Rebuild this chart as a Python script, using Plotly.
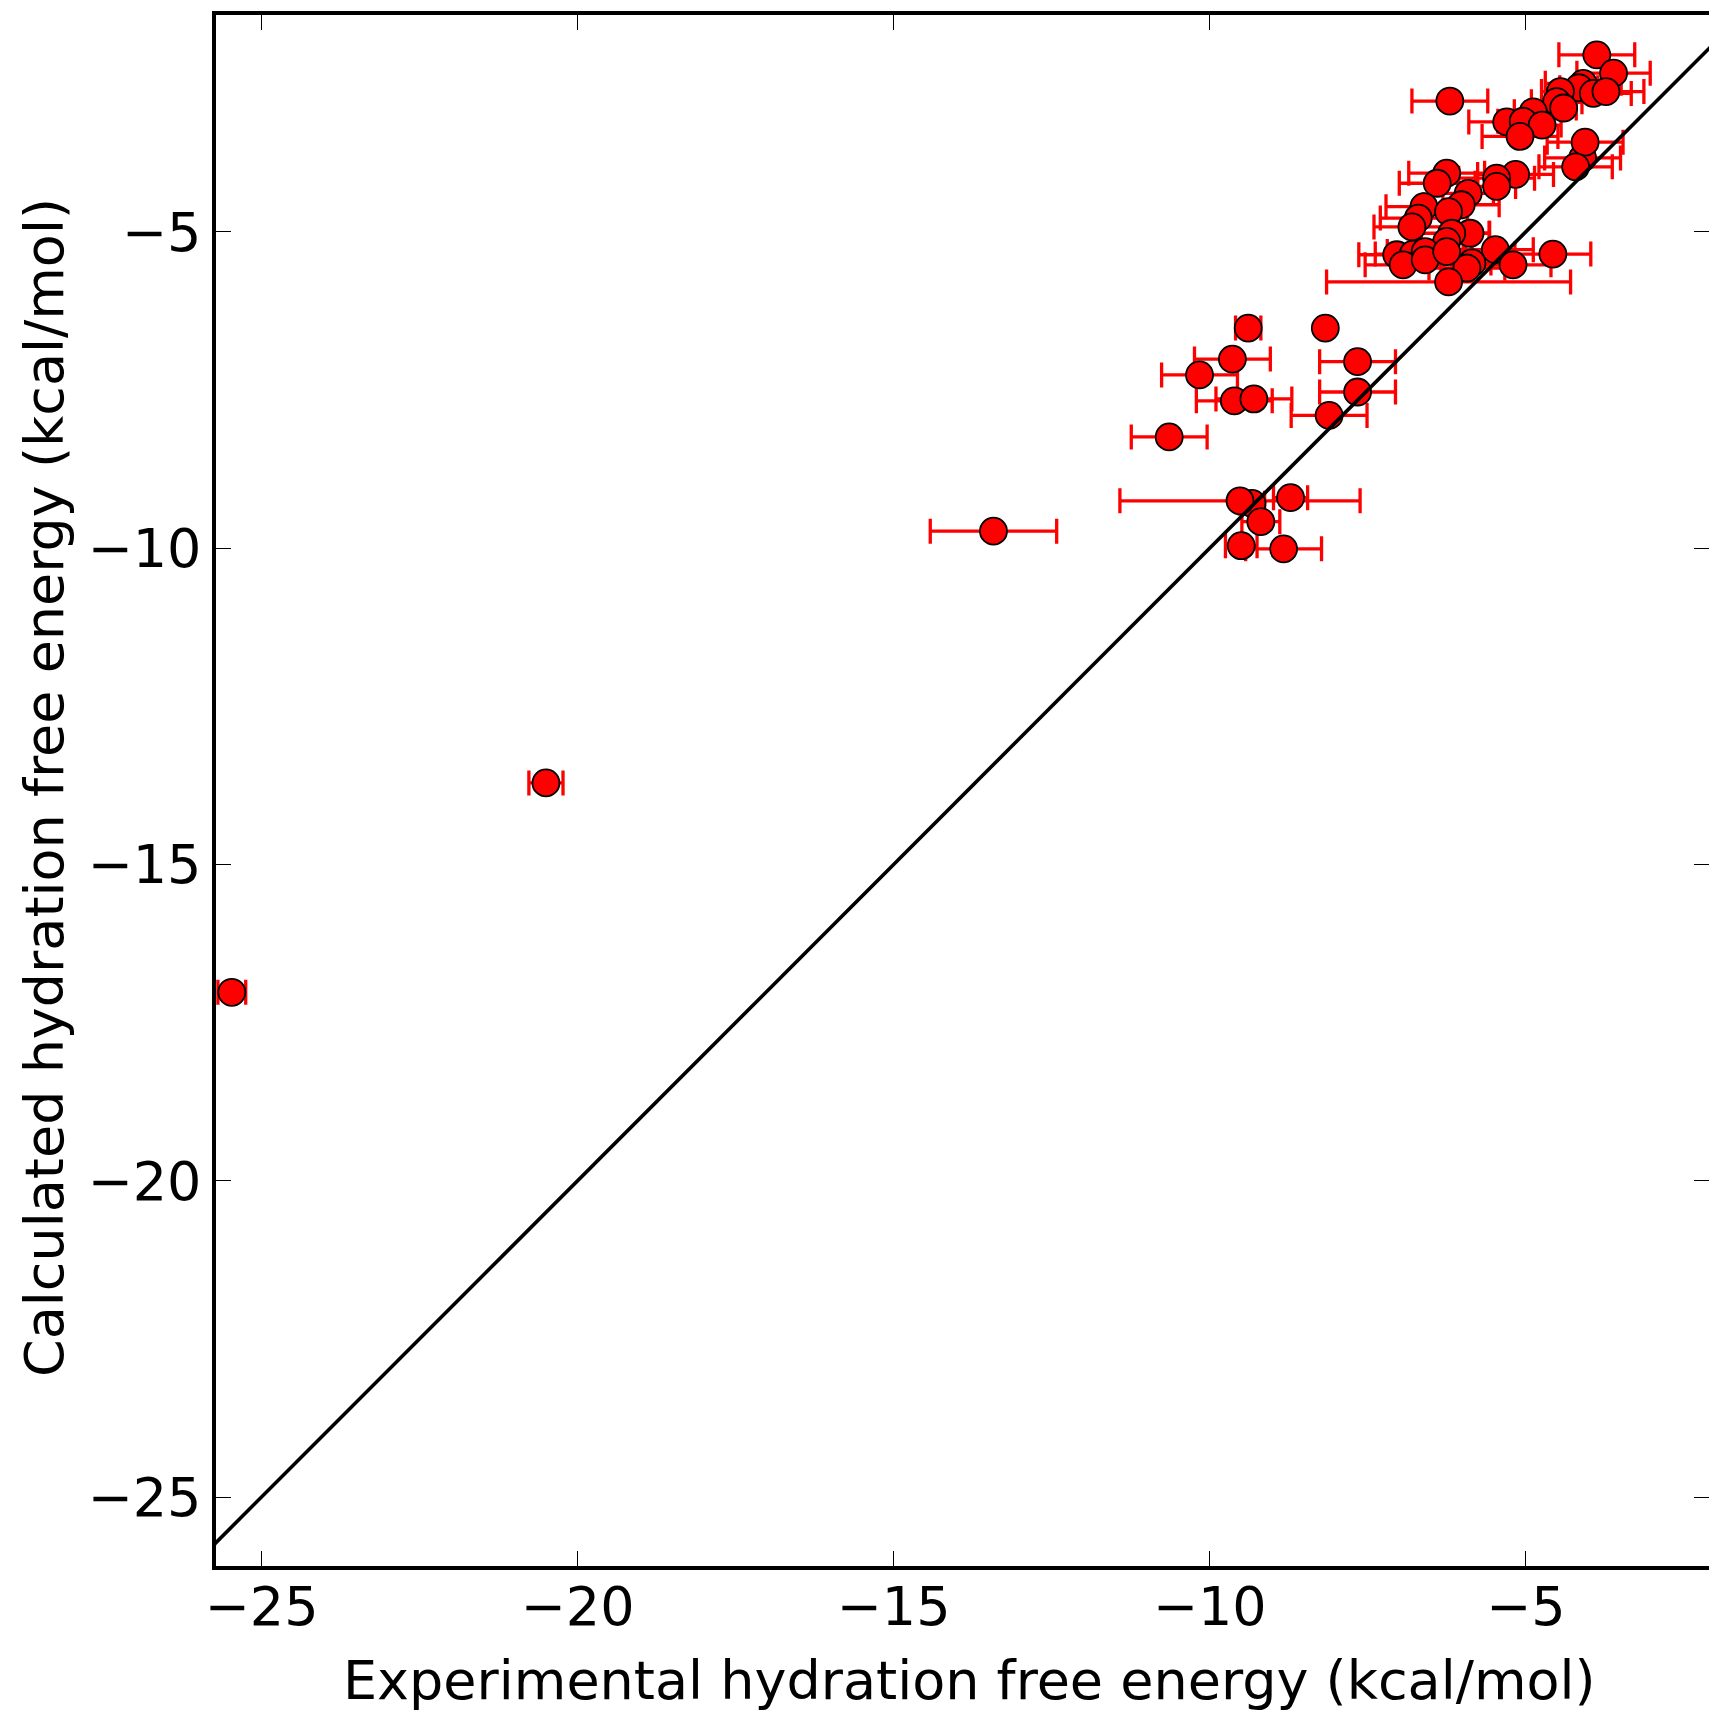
import plotly.graph_objects as go

# Experimental (x) vs calculated (y) hydration free energies, kcal/mol, with x error
exp_dg = [
    -25.47, -20.50, -13.42,
    -9.39, -8.17, -9.64, -10.16, -7.66, -7.66, -9.61, -9.30, -8.11, -10.64,
    -9.33, -9.52, -8.72, -9.19, -9.50, -8.83,
    -3.875, -3.61, -6.20, -4.09, -4.16, -3.93, -3.73, -4.45, -4.51, -4.40,
    -4.88, -5.30, -5.04, -4.74, -5.09, -4.10, -4.06, -4.21,
    -6.25, -6.40, -5.16, -5.46, -5.46, -5.91, -6.02, -6.61, -6.22, -6.70,
    -6.80, -5.88, -6.17, -6.25, -7.04, -6.78, -6.59, -6.94, -6.59, -5.48,
    -5.20, -5.85, -5.93, -6.22, -4.57, -6.25,
]
calc_dg = [
    -17.02, -13.71, -9.73,
    -6.52, -6.52, -7.01, -7.26, -7.05, -7.53, -7.67, -7.64, -7.90, -8.24,
    -9.29, -9.25, -9.20, -9.58, -9.96, -10.01,
    -2.20, -2.49, -2.93, -2.65, -2.72, -2.81, -2.78, -2.78, -2.94, -3.04,
    -3.10, -3.26, -3.25, -3.31, -3.49, -3.83, -3.58, -3.97,
    -4.07, -4.23, -4.09, -4.15, -4.28, -4.39, -4.57, -4.60, -4.68, -4.78,
    -4.92, -5.02, -5.02, -5.15, -5.36, -5.35, -5.31, -5.52, -5.44, -5.28,
    -5.52, -5.49, -5.57, -5.79, -5.35, -5.31,
]
exp_err = [
    0.22, 0.27, 1.0,
    0.2, 0.0, 0.6, 0.6, 0.6, 0.6, 0.6, 0.6, 0.6, 0.6,
    0.2, 1.9, 0.27, 0.3, 0.25, 0.6,
    0.6, 0.58, 0.6, 0.6, 0.3, 0.6, 0.6, 0.3, 0.4, 0.2,
    0.3, 0.6, 0.4, 0.3, 0.6, 0.6, 0.6, 0.58,
    0.6, 0.6, 0.6, 0.6, 0.3, 0.4, 0.6, 0.6, 0.3, 0.6,
    0.6, 0.3, 0.6, 0.4, 0.6, 0.6, 0.6, 0.6, 0.3, 0.6,
    0.6, 0.3, 0.6, 1.93, 0.6, 0.3,
]

x_range = [-25.72, -2.10]
y_range = [-26.09, -1.57]
tick_vals = [-25, -20, -15, -10, -5]
tick_text = ["\u221225", "\u221220", "\u221215", "\u221210", "\u22125"]

FONT = "DejaVu Sans"
FS = 54

fig = go.Figure()
fig.add_trace(go.Scatter(
    x=exp_dg, y=calc_dg, mode="markers",
    marker=dict(size=27, color="#ff0000", line=dict(color="black", width=1.8)),
    error_x=dict(type="data", array=exp_err, visible=True, color="#ff0000",
                 thickness=3.3, width=12.5),
    showlegend=False, hoverinfo="skip",
))
lo = min(x_range[0], y_range[0])
hi = max(x_range[1], y_range[1])
fig.add_trace(go.Scatter(
    x=[lo, hi], y=[lo, hi], mode="lines",
    line=dict(color="black", width=3.6), showlegend=False, hoverinfo="skip",
))
# invisible trace so the right-hand tick axis is drawn
fig.add_trace(go.Scatter(
    x=exp_dg, y=calc_dg, yaxis="y2", mode="markers",
    marker=dict(opacity=0), showlegend=False, hoverinfo="skip",
))

fig.update_layout(
    width=1709, height=1713,
    margin=dict(l=216, r=0, t=15, b=147),
    paper_bgcolor="white", plot_bgcolor="white",
    font=dict(family=FONT, size=FS, color="black"),
    xaxis=dict(
        range=x_range, tickvals=tick_vals, ticktext=tick_text,
        ticks="inside", ticklen=15, tickwidth=1.3, tickcolor="black",
        showline=True, linewidth=3.5, linecolor="black", mirror="ticks",
        showgrid=False, zeroline=False, ticklabelstandoff=-10,
        tickfont=dict(family=FONT, size=FS),
    ),
    yaxis=dict(
        range=y_range, tickvals=tick_vals, ticktext=tick_text,
        ticks="inside", ticklen=15, tickwidth=1.3, tickcolor="black",
        showline=True, linewidth=3.5, linecolor="black", mirror=False,
        showgrid=False, zeroline=False,
        tickfont=dict(family=FONT, size=FS),
    ),
    yaxis2=dict(
        range=y_range, tickvals=tick_vals, overlaying="y", side="right",
        ticks="inside", ticklen=15, tickwidth=1.3, tickcolor="black",
        showline=False, showticklabels=False, showgrid=False, zeroline=False,
    ),
    annotations=[
        dict(text="Experimental hydration free energy (kcal/mol)",
             xref="paper", yref="paper", x=(970 - 216) / 1493, y=-(1680 - 1566) / 1551,
             xanchor="center", yanchor="middle", showarrow=False,
             font=dict(family=FONT, size=FS)),
        dict(text="Calculated hydration free energy (kcal/mol)",
             xref="paper", yref="paper", x=(44 - 216) / 1493, y=(1566 - 788) / 1551,
             xanchor="center", yanchor="middle", showarrow=False, textangle=-90,
             font=dict(family=FONT, size=FS)),
    ],
)

fig.write_html("out.html")
